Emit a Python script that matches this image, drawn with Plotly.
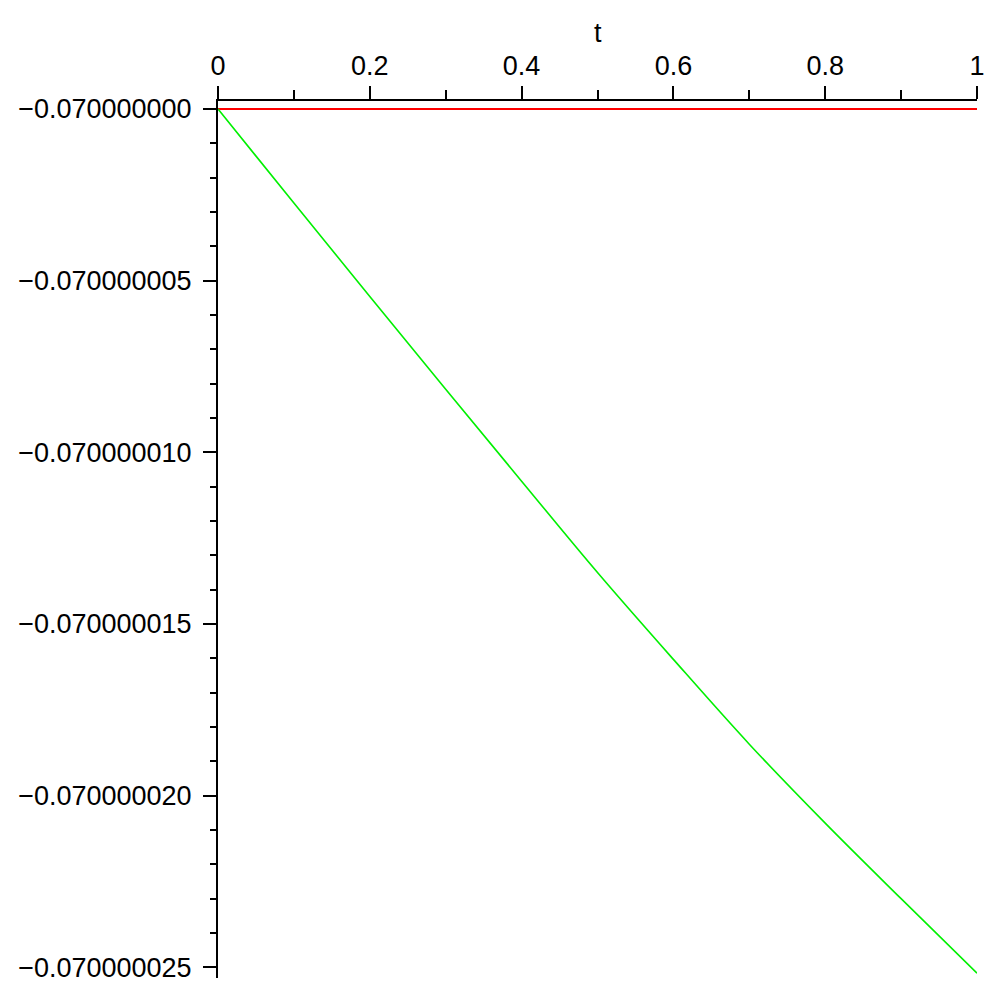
import plotly.graph_objects as go

# data
t_values = [0.0, 0.1, 0.2, 0.3, 0.4, 0.5, 0.6, 0.7, 0.8, 0.9, 1.0]
green_values = [-0.0700000000, -0.07000000274, -0.07000000546, -0.07000000816,
                -0.07000001084, -0.0700000135, -0.07000001603, -0.0700000185,
                -0.0700000208, -0.070000023, -0.07000002517]
red_values = [-0.07] * len(t_values)

x_tick_vals = [0, 0.2, 0.4, 0.6, 0.8, 1]
x_tick_text = ["0", "0.2", "0.4", "0.6", "0.8", "1"]
x_minor_vals = [0.1, 0.3, 0.5, 0.7, 0.9]

y_tick_vals = [-0.070000000, -0.070000005, -0.070000010, -0.070000015,
               -0.070000020, -0.070000025]
y_tick_text = ["\u22120.070000000", "\u22120.070000005", "\u22120.070000010",
               "\u22120.070000015", "\u22120.070000020", "\u22120.070000025"]
y_minor_vals = [-0.07 - k * 1e-9 for k in range(1, 26) if k % 5 != 0]

FONT = "Liberation Sans"

fig = go.Figure()
fig.add_trace(go.Scatter(x=t_values, y=red_values, mode="lines",
                         line=dict(color="#ff0000", width=2.2), showlegend=False))
fig.add_trace(go.Scatter(x=t_values, y=green_values, mode="lines", line_shape="spline",
                         line=dict(color="#00f000", width=1.6), showlegend=False))

fig.update_layout(
    width=1000, height=1000,
    margin=dict(l=218, r=23, t=101, b=22),
    paper_bgcolor="white", plot_bgcolor="white",
    font=dict(family=FONT, size=27, color="black"),
    showlegend=False,
    xaxis=dict(
        side="top", range=[0, 1], showgrid=False, zeroline=False,
        showline=True, linecolor="black", linewidth=2,
        ticks="outside", ticklen=13, tickwidth=2, tickcolor="black",
        tickvals=x_tick_vals, ticktext=x_tick_text,
        minor=dict(tickvals=x_minor_vals, ticks="outside", ticklen=9,
                   tickwidth=2, tickcolor="black"),
    ),
    yaxis=dict(
        range=[-0.07 - 25.31e-9, -0.07 + 0.233e-9], showgrid=False, zeroline=False,
        showline=True, linecolor="black", linewidth=2,
        ticks="outside", ticklen=13, tickwidth=2, tickcolor="black",
        tickvals=y_tick_vals, ticktext=y_tick_text, ticklabelstandoff=6,
        minor=dict(tickvals=y_minor_vals, ticks="outside", ticklen=6,
                   tickwidth=2, tickcolor="black"),
    ),
    annotations=[dict(text="t", x=0.5, xref="paper", y=1 + 68 / 877, yref="paper",
                      showarrow=False, xanchor="center", yanchor="middle",
                      font=dict(family=FONT, size=27, color="black"))],
)

fig.write_html("out.html", config={"displayModeBar": False},
               post_script="document.body.style.margin='0';")
